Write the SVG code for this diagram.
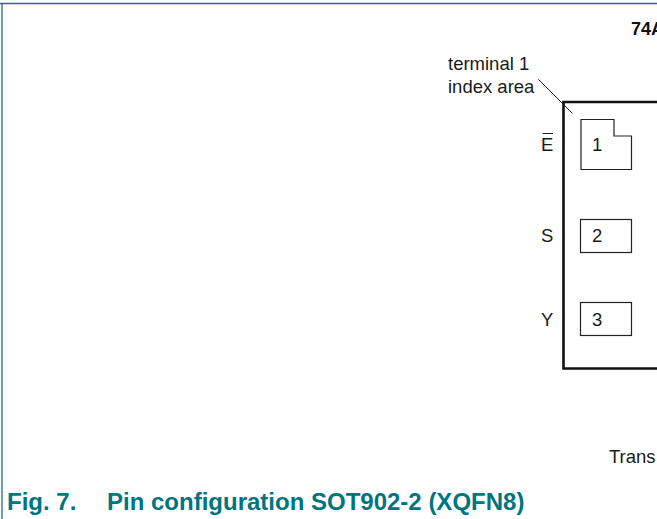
<svg xmlns="http://www.w3.org/2000/svg" width="657" height="519" viewBox="0 0 657 519">
<style>
text{font-family:"Liberation Sans",Arial,sans-serif;font-size:18.5px;fill:#1a1a1a}
.pin{fill:#fff;stroke:#222;stroke-width:1.2}
.cap{font-size:24px;font-weight:bold;fill:#00757f}
</style>
<rect width="657" height="519" fill="#fff"/>
<g id="frame" fill="none" stroke="#1d6f85" stroke-width="1.3">
<path d="M0 3.500H657"/>
<path d="M2 3V519"/>
</g>
<text id="header" x="631" y="34.500" style="font-size:18px;font-weight:bold;fill:#111">74A</text>
<g id="connectors">
<path d="M538.300 79.300L572.300 113.300" fill="none" stroke="#222" stroke-width="1"/>
</g>
<g id="package">
<path d="M657 102H563.500V368.500H657" fill="none" stroke="#111" stroke-width="2.600"/>
</g>
<g id="label-terminal">
<text x="448" y="70">terminal 1</text>
<text x="448" y="93">index area</text>
</g>
<g id="pin1">
<path class="pin" d="M581 119.500H614V136H631.500V169.500H581Z"/>
<text x="592" y="151">1</text>
<text x="541" y="151">E</text>
<path d="M542.500 133.500H553" stroke="#222" stroke-width="1"/>
</g>
<g id="pin2">
<rect class="pin" x="580.500" y="219.500" width="51" height="33"/>
<text x="592" y="242">2</text>
<text x="541" y="242">S</text>
</g>
<g id="pin3">
<rect class="pin" x="580.500" y="302.500" width="51" height="33"/>
<text x="592" y="326">3</text>
<text x="541" y="326">Y</text>
</g>
<text id="transparent" x="609" y="462.500">Trans</text>
<g id="caption">
<text class="cap" x="7" y="510">Fig. 7.</text>
<text class="cap" x="107" y="510">Pin configuration SOT902-2 (XQFN8)</text>
</g>
</svg>
